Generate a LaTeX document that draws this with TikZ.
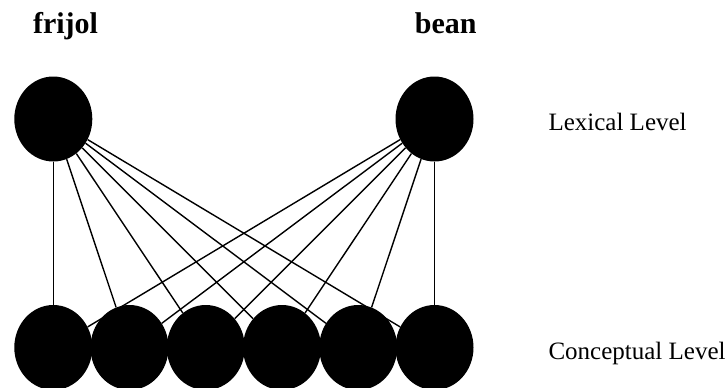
\documentclass[tikz,border=0pt]{standalone}
\usepackage{fontspec}
\setmainfont{Liberation Serif}
\usetikzlibrary{shapes.geometric}
\begin{document}
\begin{tikzpicture}[x=1bp,y=-1bp,
  unit/.style={ellipse,fill=black,draw=none,inner sep=0pt,
               minimum width=78bp,minimum height=85bp},
  link/.style={draw=black,line width=1.4bp},
  word/.style={font=\fontsize{30bp}{34bp}\selectfont\bfseries,anchor=base,inner sep=0pt},
  level/.style={font=\fontsize{25bp}{29bp}\selectfont,anchor=base west,inner sep=0pt}]
  \clip (0,0) rectangle (728,387);
  \useasboundingbox (0,0) rectangle (728,387);

  % lexical units
  \node[unit] (lexA) at (53.3,119) {};
  \node[unit] (lexB) at (434.5,119) {};

  % conceptual units
  \foreach \i/\x in {1/53.3,2/129.5,3/205.8,4/282.0,5/358.2,6/434.5}
    \node[unit] (con\i) at (\x,347.5) {};

  % connections from both words to every concept
  \foreach \i in {1,...,6} {
    \path[link] (lexA) -- (con\i);
    \path[link] (lexB) -- (con\i);
  }

  % labels
  \node[word] (wA) at (65.5,33.3) {frijol};
  \node[word] (wB) at (445.8,33.3) {bean};
  \node[level] (lx) at (548.3,130.7) {Lexical Level};
  \node[level] (cx) at (548.3,359.5) {Conceptual Level};
\end{tikzpicture}
\end{document}
